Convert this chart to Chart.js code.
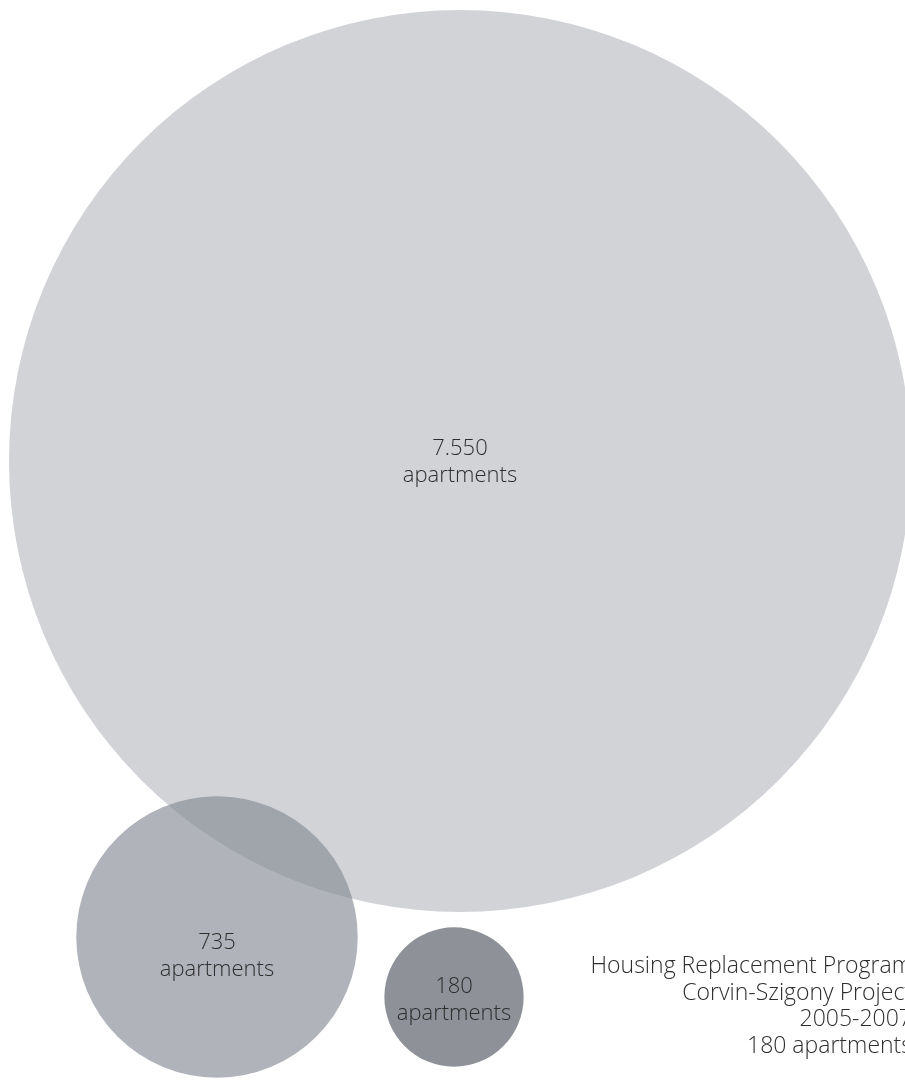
<!DOCTYPE html>
<html>
<head>
<meta charset="utf-8">
<script src="https://cdn.jsdelivr.net/npm/chart.js@4"></script>
<style>
  html, body { margin: 0; padding: 0; background: #fff; overflow: hidden; }
  canvas { display: block; }
</style>
</head>
<body>
<canvas id="bubbleChart" width="905" height="1086"></canvas>
<script>
// values (apartments)
var categories = ['7.550', '735', '180'];
var values = [7550, 735, 180];
var unit = 'apartments';
var noteLines = ['Housing Replacement Program', 'Corvin-Szigony Project', '2005-2007', '180 apartments'];

// layout only (in scale units = pixels of the page)
var posX = [460, 217, 454];
var posY = [461, 937, 997];
var labelShift = [0, 18, 2];
var colors = ['rgb(209,211,214)', 'rgba(134,138,148,0.652)', 'rgb(142,145,151)'];

// bubble area proportional to the value
var maxR = 451;
function radiusOf(v) {
  return maxR * Math.sqrt(v / values[0]);
}

var points = [];
for (var i = 0; i < values.length; i++) {
  points.push({ x: posX[i], y: posY[i], r: radiusOf(values[i]) });
}

// text inside the circles + note in the corner
var labelPlugin = {
  id: 'bubbleLabels',
  afterDatasetsDraw: function(chart) {
    var ctx = chart.ctx;
    var meta = chart.getDatasetMeta(0);
    ctx.save();
    ctx.fillStyle = '#2e2e2e';
    ctx.font = '300 22px "Open Sans"';
    ctx.textAlign = 'center';
    ctx.textBaseline = 'alphabetic';
    meta.data.forEach(function(pt, i) {
      var cy = pt.y + labelShift[i];
      ctx.fillText(categories[i], pt.x, cy - 6);
      ctx.fillText(unit, pt.x, cy + 21);
    });
    ctx.font = '300 23px "Open Sans"';
    ctx.textAlign = 'right';
    for (var j = 0; j < noteLines.length; j++) {
      ctx.fillText(noteLines[j], 912, 973 + j * 26.5);
    }
    ctx.restore();
  }
};

var ctx = document.getElementById('bubbleChart');
var bubbleChart = new Chart(ctx, {
  type: 'bubble',
  data: {
    datasets: [{
      label: unit,
      data: points,
      backgroundColor: colors,
      borderWidth: 0,
      hoverBorderWidth: 0,
      clip: false
    }]
  },
  options: {
    responsive: false,
    animation: false,
    devicePixelRatio: 1,
    layout: { padding: 0, autoPadding: false },
    plugins: {
      legend: { display: false },
      tooltip: { enabled: false }
    },
    scales: {
      x: { type: 'linear', min: 0, max: 905, display: false },
      y: { type: 'linear', min: 0, max: 1086, reverse: true, display: false }
    }
  },
  plugins: [labelPlugin]
});
</script>
</body>
</html>
